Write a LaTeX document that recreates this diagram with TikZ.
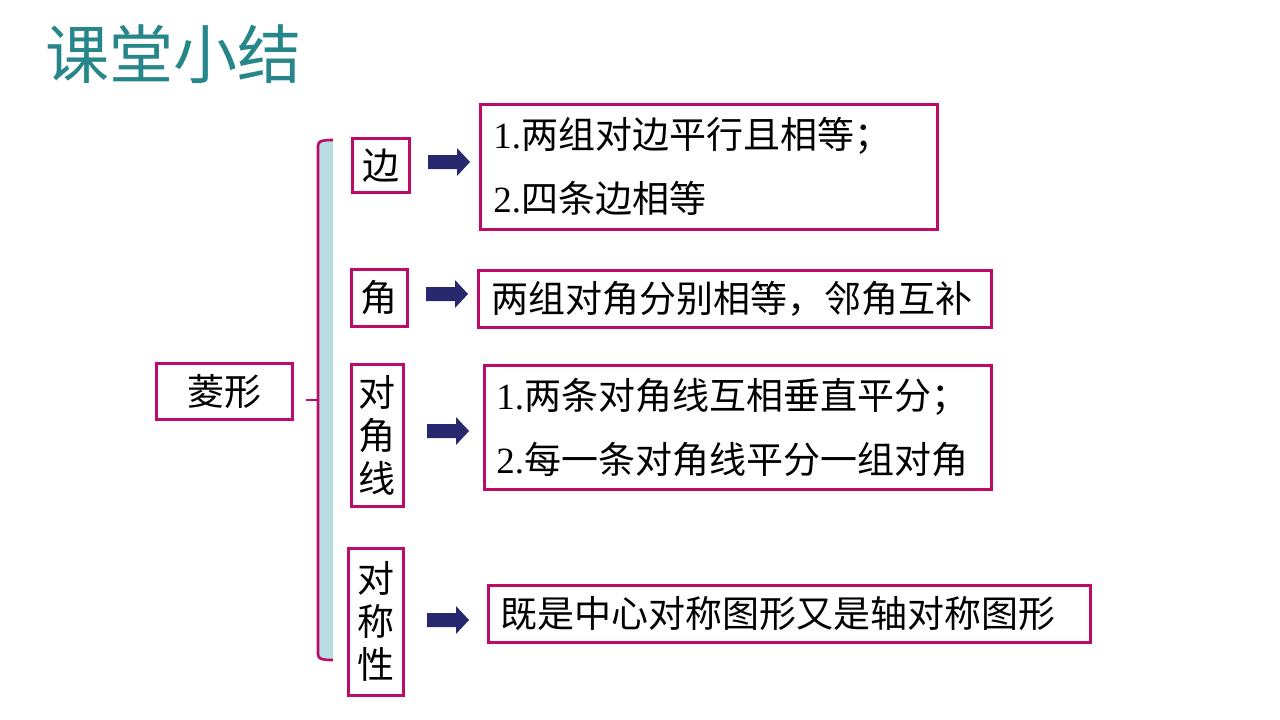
\documentclass[tikz,border=0pt]{standalone}
\usepackage{fontspec}
\setmainfont{Liberation Serif}
\newfontfamily\cjk{Noto Sans CJK SC}
\definecolor{mag}{RGB}{190,10,105}
\definecolor{lblue}{RGB}{183,221,224}
\definecolor{navy}{RGB}{40,40,110}
\definecolor{teal2}{RGB}{38,134,138}
\tikzset{
  box/.style={draw=mag, line width=2.6pt, anchor=north west, inner sep=0pt, font=\cjk\fontsize{37}{43}\selectfont},
  tbox/.style={box, align=left, font=\fontsize{37}{64}\selectfont},
  blockarrow/.style={fill=navy},
}
\newcommand\blockarr[1]{\fill[blockarrow] (#1) +(-21,-7) -- +(8,-7) -- +(8,-14) -- +(21,0) -- +(8,14) -- +(8,7) -- +(-21,7) -- cycle;}
\begin{document}
\begin{tikzpicture}[x=1pt,y=-1pt]
\useasboundingbox (0,0) rectangle (1280,720);
% title
\node[anchor=west, text=teal2, inner sep=0pt, font=\cjk\fontsize{64}{66}\selectfont] (title) at (45,54) {课堂小结};
% brace
\fill[lblue] (318,140) rectangle (333,660);
\draw[mag, line width=2.6pt] (333,140) .. controls (322,140) and (318,141) .. (318,146) -- (318,654) .. controls (318,659) and (322,660) .. (333,660);
% root
\node[box, minimum width=136pt, minimum height=56pt] (root) at (155,362) {菱形};
\coordinate (rootlink) at (318,400);
\draw[mag, line width=2.6pt] (root.east |- rootlink) ++(12,0) -- (rootlink);
% categories
\node[box, minimum width=57pt, minimum height=54pt] (c1) at (351,137) {边};
\node[box, minimum width=56pt, minimum height=57pt] (c2) at (350,268) {角};
\node[box, minimum width=52pt, minimum height=142pt, align=center] (c3) at (350,363) {对\\角\\线};
\node[box, minimum width=55pt, minimum height=147pt, align=center] (c4) at (347,547) {对\\称\\性};
% arrows
\coordinate (a1) at (449,162);
\coordinate (a2) at (447,294);
\coordinate (a3) at (448,431);
\coordinate (a4) at (448,620);
\blockarr{a1}
\blockarr{a2}
\blockarr{a3}
\blockarr{a4}
% descriptions
\node[tbox, minimum width=457pt, minimum height=125pt, text width=431pt] (d1) at (479,103) {1.{\cjk 两组对边平行且相等；}\\2.{\cjk 四条边相等}};
\node[box, minimum width=513pt, minimum height=57pt, text width=487pt] (d2) at (477,269) {两组对角分别相等，邻角互补};
\node[tbox, minimum width=507pt, minimum height=124pt, text width=483pt] (d3) at (483,364) {1.{\cjk 两条对角线互相垂直平分；}\\2.{\cjk 每一条对角线平分一组对角}};
\node[box, minimum width=602pt, minimum height=57pt, text width=578pt] (d4) at (487,584) {既是中心对称图形又是轴对称图形};
\end{tikzpicture}
\end{document}
